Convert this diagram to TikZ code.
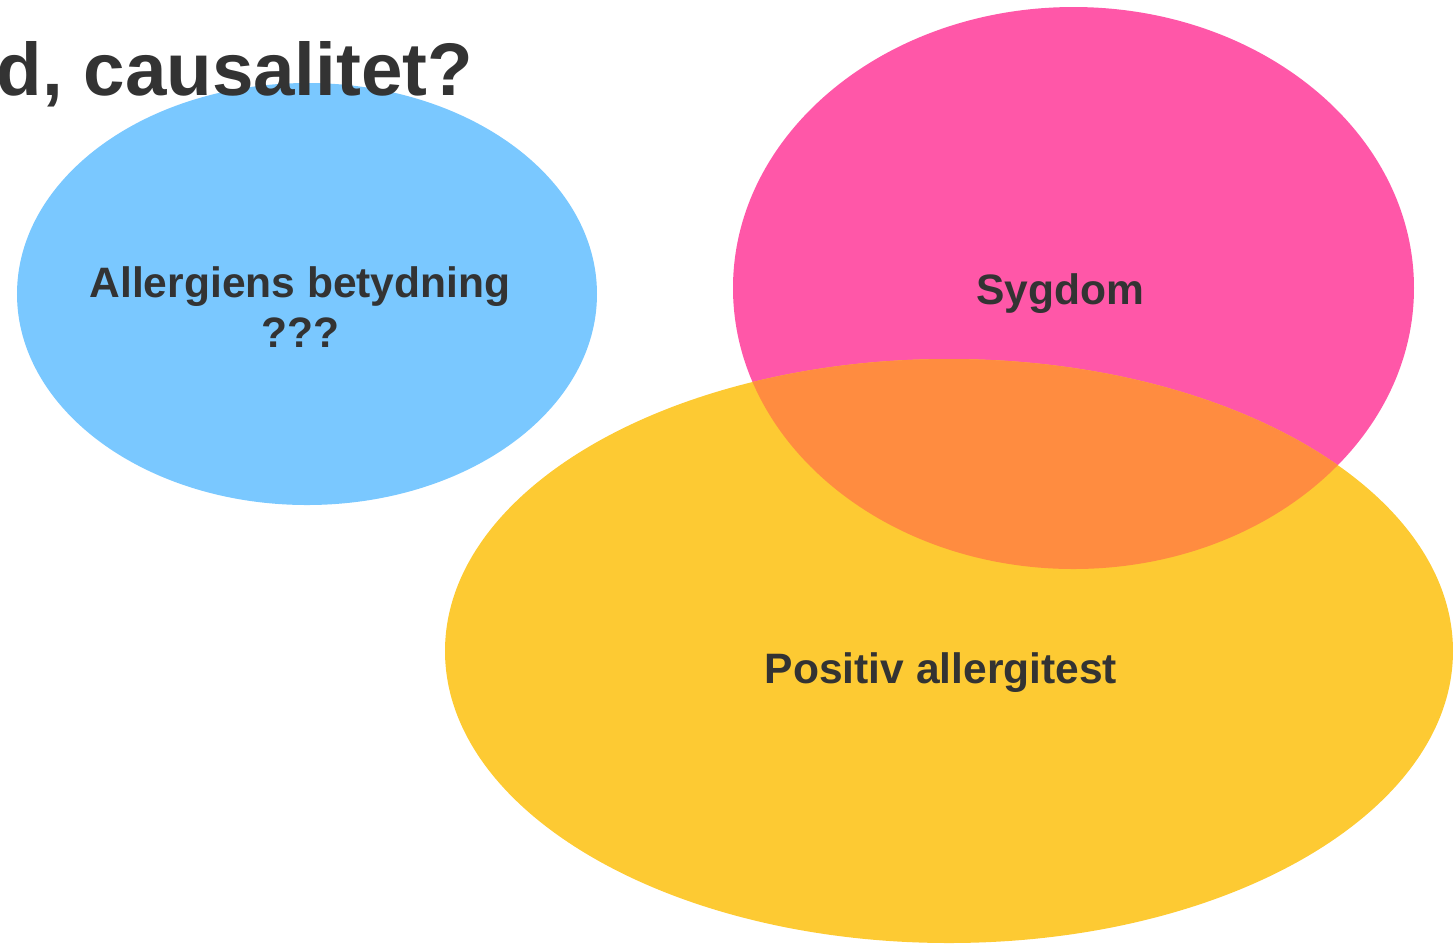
\documentclass[tikz,border=0pt]{standalone}
\usepackage{fontspec}
\setmainfont{Liberation Sans}
\usepackage{tikz}
\usetikzlibrary{positioning}

\definecolor{bluebub}{HTML}{7AC8FF}
\definecolor{pinkbub}{HTML}{FF57A8}
\definecolor{yellowbub}{HTML}{FDCA33}
\definecolor{orangebub}{HTML}{FF8C40}
\definecolor{txt}{HTML}{333333}

\begin{document}
\begin{tikzpicture}[x=0.01cm, y=-0.01cm,
  lbl/.style={text=txt, font=\fontsize{12.1}{14.2}\selectfont\bfseries, align=center, inner sep=0pt},
  ttl/.style={text=txt, font=\fontsize{21.2}{24}\selectfont\bfseries, inner sep=0pt}]
  \useasboundingbox (0,0) rectangle (1456,944);
  % bubbles
  \fill[bluebub] (307,294) ellipse [x radius=290, y radius=211];
  \fill[pinkbub] (1073.5,288) ellipse [x radius=340.5, y radius=281];
  \fill[yellowbub] (949,651) ellipse [x radius=504, y radius=292];
  \begin{scope}
    \clip (1073.5,288) ellipse [x radius=340.5, y radius=281];
    \fill[orangebub] (949,651) ellipse [x radius=504, y radius=292];
  \end{scope}
  % texts
  \node[ttl, anchor=base west] (title) at (-4,95) {d, causalitet?};
  \node[lbl, anchor=base] (betyd) at (300,347) {Allergiens betydning\\???};
  \node[lbl, anchor=base] (sygdom) at (1060,304) {Sygdom};
  \node[lbl, anchor=base] (test) at (941,683) {Positiv allergitest};
\end{tikzpicture}
\end{document}
